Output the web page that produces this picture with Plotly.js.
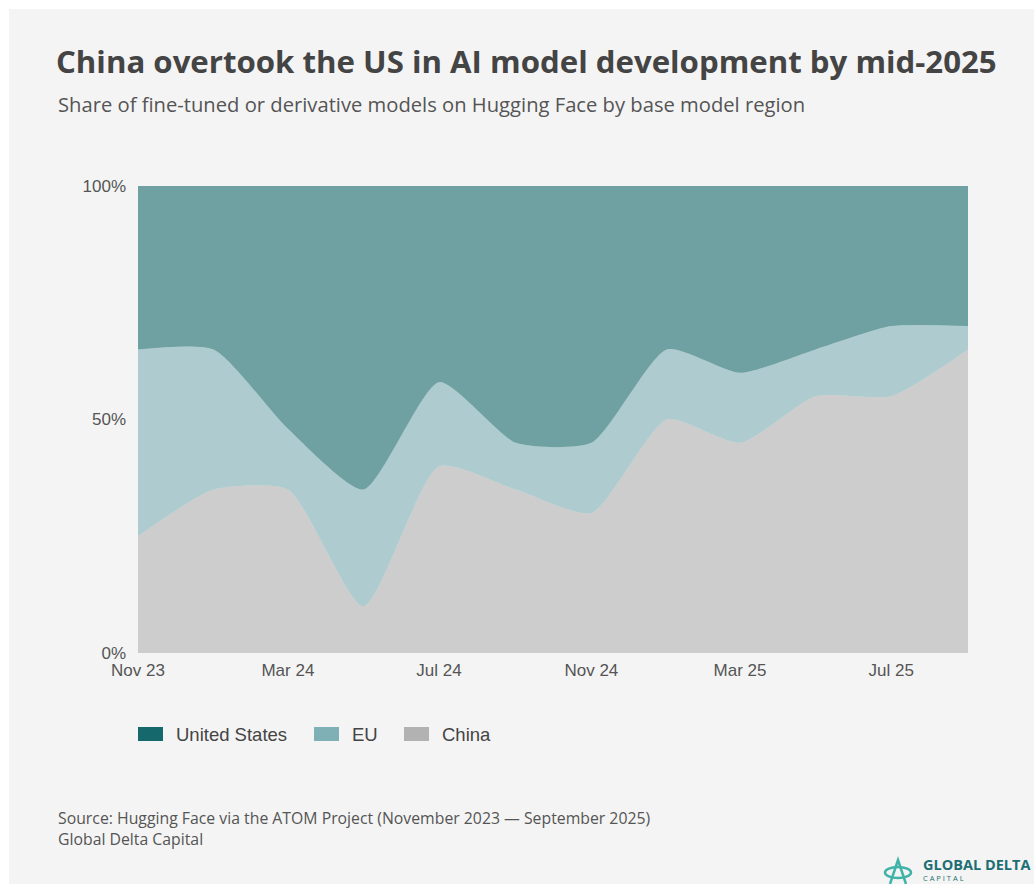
<!DOCTYPE html>
<html>
<head>
<meta charset="utf-8">
<script src="https://cdn.plot.ly/plotly-3.0.1.min.js"></script>
<style>
  html, body { margin:0; padding:0; background:#ffffff; }
  #bg { position:absolute; left:9px; top:9px; width:1025px; height:875px; background:#f4f4f4; }
  #chart { position:absolute; left:0; top:0; width:1034px; height:884px; }
</style>
</head>
<body>
<div id="bg"></div>
<div id="chart"></div>
<script>
// ---- data (share %, every two months) ----
const months = ["2023-11-01","2024-01-01","2024-03-01","2024-05-01","2024-07-01","2024-09-01",
                "2024-11-01","2025-01-01","2025-03-01","2025-05-01","2025-07-01","2025-09-01"];
const china = [25, 35, 35, 10, 40, 35, 30, 50, 45, 55, 55, 65];
const eu    = [40, 30, 13, 25, 18, 10, 15, 15, 15, 10, 15,  5];
const us    = [35, 35, 52, 65, 42, 55, 55, 35, 40, 35, 30, 30];
const seriesNames = ["United States", "EU", "China"];
const yTickVals = [0, 50, 100];
const yTickText = ["0%", "50%", "100%"];

// ---- style ----
const colors = { "United States": "#15696c", "EU": "#7fb0b5", "China": "#b2b2b2" };
const fills  = { "United States": "rgba(21,105,108,0.6)", "EU": "rgba(127,176,181,0.6)", "China": "rgba(178,178,178,0.6)" };

const W = 1034, H = 884;
const ML = 138, MR = 66, MT = 186, MB = 231;
const PW = W - ML - MR, PH = H - MT - MB;
const X = px => (px - ML) / PW;
const Y = py => (MT + PH - py) / PH;

function area(name, vals) {
  return {
    type: "scatter", mode: "lines", name: name, x: months, y: vals,
    stackgroup: "one", line: { width: 0, shape: "spline", smoothing: 0.6, color: colors[name] },
    fillcolor: fills[name], showlegend: false, hoverinfo: "skip"
  };
}
const traces = [area("China", china), area("EU", eu), area("United States", us)];

const shapes = [];
const annotations = [];

// Manual legend
const legendX = [138, 314, 404];
seriesNames.forEach((n, i) => {
  shapes.push({ type: "rect", xref: "paper", yref: "paper", x0: X(legendX[i]), x1: X(legendX[i] + 25),
    y0: Y(741), y1: Y(727), fillcolor: colors[n], line: { width: 0 } });
  annotations.push({ xref: "paper", yref: "paper", x: X(legendX[i] + 36), y: Y(734.5), xanchor: "left", yanchor: "middle",
    text: n, showarrow: false, font: { family: "Liberation Sans, Arial, sans-serif", size: 18.5, color: "#444" } });
});

// Subtitle
annotations.push({ xref: "paper", yref: "paper", x: X(56), y: Y(104), xanchor: "left", yanchor: "middle", showarrow: false,
  text: "Share of fine-tuned or derivative models on Hugging Face by base model region",
  font: { family: "Open Sans, sans-serif", size: 20.2, color: "#555" } });
// Source
annotations.push({ xref: "paper", yref: "paper", x: X(56), y: Y(818), xanchor: "left", yanchor: "middle", showarrow: false,
  text: "Source: Hugging Face via the ATOM Project (November 2023 — September 2025)",
  font: { family: "Open Sans, sans-serif", size: 15.8, color: "#555" } });
annotations.push({ xref: "paper", yref: "paper", x: X(56), y: Y(839), xanchor: "left", yanchor: "middle", showarrow: false,
  text: "Global Delta Capital",
  font: { family: "Open Sans, sans-serif", size: 15.8, color: "#555" } });
// Logo text
annotations.push({ xref: "paper", yref: "paper", x: X(921), y: Y(864), xanchor: "left", yanchor: "middle", showarrow: false,
  text: "<b>GLOBAL DELTA</b>", font: { family: "Open Sans, sans-serif", size: 14.5, color: "#1d6f73" } });
annotations.push({ xref: "paper", yref: "paper", x: X(921), y: Y(878.5), xanchor: "left", yanchor: "middle", showarrow: false,
  text: "C A P I T A L", font: { family: "Open Sans, sans-serif", size: 7.5, color: "#1d6f73" } });
// Logo icon (simple)
shapes.push({ type: "path", xref: "paper", yref: "paper",
  path: `M ${X(890)} ${Y(884)} L ${X(898)} ${Y(860)} L ${X(906)} ${Y(884)}`,
  line: { color: "#3fb3a8", width: 2.5 } });
shapes.push({ type: "circle", xref: "paper", yref: "paper", x0: X(885), x1: X(911), y0: Y(878), y1: Y(867),
  line: { color: "#3fb3a8", width: 2.5 } });

const layout = {
  width: W, height: H,
  margin: { l: ML, r: MR, t: MT, b: MB },
  paper_bgcolor: "rgba(0,0,0,0)", plot_bgcolor: "rgba(0,0,0,0)",
  title: { text: "China overtook the US in AI model development by mid-2025",
    xref: "container", yref: "container", x: 56 / W, xanchor: "left", y: 1 - 62 / H, yanchor: "middle",
    font: { family: "Open Sans, sans-serif", size: 31.2, weight: 700, color: "#444" } },
  xaxis: { type: "date", range: [months[0], months[months.length - 1]], tick0: months[0], dtick: "M4",
    tickformat: "%b %y", showgrid: false, zeroline: false, showline: false, ticks: "",
    ticklabelstandoff: 5,
    tickfont: { family: "Liberation Sans, Arial, sans-serif", size: 17, color: "#555" } },
  yaxis: { range: [0, 100], tickvals: yTickVals, ticktext: yTickText, showgrid: false, zeroline: false,
    showline: false, ticks: "", ticklabelstandoff: 11,
    tickfont: { family: "Liberation Sans, Arial, sans-serif", size: 17, color: "#555" } },
  showlegend: false,
  hovermode: false,
  shapes: shapes,
  annotations: annotations
};

Plotly.newPlot("chart", traces, layout, { displayModeBar: false, staticPlot: true });
</script>
</body>
</html>
